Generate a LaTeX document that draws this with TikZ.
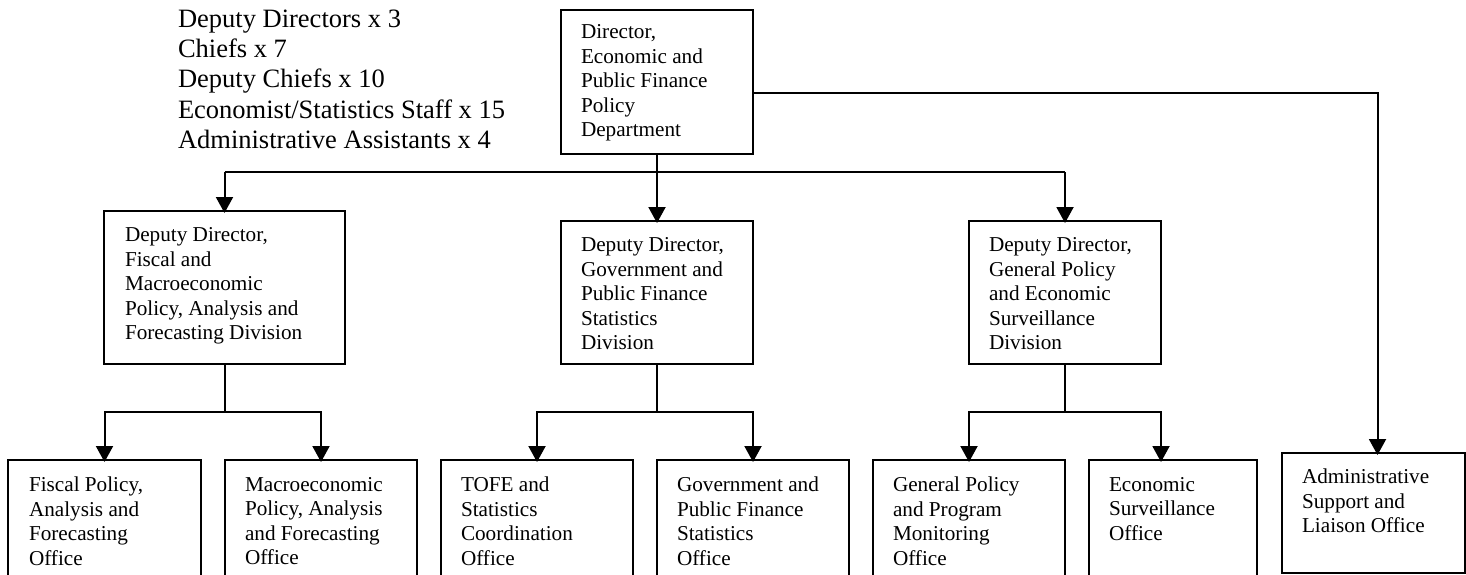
\documentclass[tikz,border=0pt]{standalone}
\usepackage{fontspec}
\setmainfont{Liberation Serif}
\usetikzlibrary{arrows.meta}
\tikzset{
  box/.style={draw=black, line width=2pt, rectangle, outer sep=0pt, inner sep=0pt, anchor=north west},
  txt/.style={align=left, inner sep=0pt, outer sep=0pt, anchor=north west, font=\fontsize{21.2}{24.6}\selectfont},
  toptxt/.style={align=left, inner sep=0pt, outer sep=0pt, anchor=north west, font=\fontsize{26.5}{30.2}\selectfont},
  ln/.style={draw=black, line width=2pt},
  arr/.style={ln, -{Triangle[width=17pt,length=16pt]}, shorten >=-2pt}
}
\begin{document}
\begin{tikzpicture}[x=1pt,y=-1pt]
\useasboundingbox (0,0) rectangle (1466,575);
\fill[white] (0,0) rectangle (1466,575);
\clip (0,0) rectangle (1466,575);

% top staff list
\node[toptxt] (staff) at (178,10) {Deputy Directors x 3\\Chiefs x 7\\Deputy Chiefs x 10\\Economist/Statistics Staff x 15\\Administrative Assistants x 4};

% director
\node[box, minimum width=192pt, minimum height=144pt] (dir) at (561,10) {};
\node[txt] (dirt) at (581,24.5) {Director,\\Economic and\\Public Finance\\Policy\\Department};

% deputy directors
\node[box, minimum width=241pt, minimum height=153pt] (d1) at (104,211) {};
\node[txt] (d1t) at (125,227.5) {Deputy Director,\\Fiscal and\\Macroeconomic\\Policy, Analysis and\\Forecasting Division};
\node[box, minimum width=192pt, minimum height=143pt] (d2) at (561,221) {};
\node[txt] (d2t) at (581,237.5) {Deputy Director,\\Government and\\Public Finance\\Statistics\\Division};
\node[box, minimum width=192pt, minimum height=143pt] (d3) at (969,221) {};
\node[txt] (d3t) at (989,237.5) {Deputy Director,\\General Policy\\and Economic\\Surveillance\\Division};

% offices
\node[box, minimum width=193pt, minimum height=140pt] (o1) at (8,460) {};
\node[txt] (o1t) at (29,477) {Fiscal Policy,\\Analysis and\\Forecasting\\Office};
\node[box, minimum width=192pt, minimum height=140pt] (o2) at (225,460) {};
\node[txt] (o2t) at (245,477) {Macroeconomic\\Policy, Analysis\\and Forecasting\\Office};
\node[box, minimum width=192pt, minimum height=140pt] (o3) at (441,460) {};
\node[txt] (o3t) at (461,477) {TOFE and\\Statistics\\Coordination\\Office};
\node[box, minimum width=192pt, minimum height=140pt] (o4) at (657,460) {};
\node[txt] (o4t) at (677,477) {Government and\\Public Finance\\Statistics\\Office};
\node[box, minimum width=192pt, minimum height=140pt] (o5) at (873,460) {};
\node[txt] (o5t) at (893,477) {General Policy\\and Program\\Monitoring\\Office};
\node[box, minimum width=168pt, minimum height=140pt] (o6) at (1089,460) {};
\node[txt] (o6t) at (1109,477) {Economic\\Surveillance\\Office};
\node[box, minimum width=183pt, minimum height=120pt] (adm) at (1282,453) {};
\node[txt] (admt) at (1302,469) {Administrative\\Support and\\Liaison Office};

% director connectors
\coordinate (jt) at (657,172);
\draw[arr] (dir.south) -- (d2.north);
\draw[ln] (jt -| d1.north) -- (jt -| d3.north);
\draw[arr] (jt -| d1.north) -- (d1.north);
\draw[arr] (jt -| d3.north) -- (d3.north);
\draw[arr] ([yshift=-11pt]dir.east) -| ([xshift=4pt]adm.north);

% division branches
\coordinate (b1) at (224.5,412);
\draw[ln] (d1.south) -- (b1);
\draw[arr] (b1) -| (o1.north);
\draw[arr] (b1) -| (o2.north);

\coordinate (b2) at (657,412);
\draw[ln] (d2.south) -- (b2);
\draw[arr] (b2) -| (o3.north);
\draw[arr] (b2) -| (o4.north);

\coordinate (b3) at (1065,412);
\draw[ln] (d3.south) -- (b3);
\draw[arr] (b3) -| (o5.north);
\draw[arr] (b3) -| ([xshift=-12pt]o6.north);
\end{tikzpicture}
\end{document}
